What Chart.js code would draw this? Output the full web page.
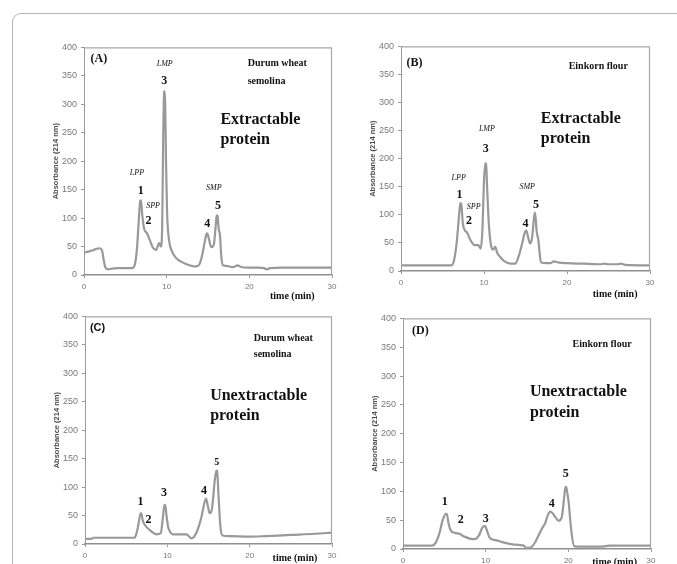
<!DOCTYPE html>
<html>
<head>
<meta charset="utf-8">
<script src="https://cdn.jsdelivr.net/npm/chart.js@4/dist/chart.umd.min.js"></script>
<style>
  html, body { margin: 0; padding: 0; background: #fff; }
  body { width: 677px; height: 564px; position: relative; overflow: hidden; }
  .frame { position: absolute; left: 12px; top: 13px; width: 700px; height: 600px;
           border-top: 1px solid #b4b4b4; border-left: 1px solid #b4b4b4; border-top-left-radius: 9px; }
  canvas { position: absolute; }
</style>
</head>
<body>
<div class="frame"></div>
<canvas id="chartA" width="312" height="277" style="left:34px;top:38px"></canvas>
<canvas id="chartB" width="313" height="274" style="left:351px;top:37px"></canvas>
<canvas id="chartC" width="311" height="277" style="left:35px;top:307px"></canvas>
<canvas id="chartD" width="312" height="280" style="left:353px;top:309px"></canvas>
<script>
// ── values (time in min, absorbance at 214 nm) ──
const timeTicks = [0, 10, 20, 30];
const absTicks  = [0, 50, 100, 150, 200, 250, 300, 350, 400];

// (A) durum wheat semolina, extractable
const timeA = [0, 0.5, 1, 1.5, 1.9, 2.2, 2.4, 2.6, 2.9, 3.3, 4, 5, 5.8, 6.1, 6.4, 6.6, 6.8, 6.9, 7.05, 7.3, 7.6,
               8, 8.3, 8.7, 9.1, 9.3, 9.45, 9.58, 9.66, 9.74, 9.82, 9.92, 10.05, 10.3, 10.6, 11.2, 11.8, 12.4, 13,
               13.6, 14, 14.3, 14.6, 14.85, 14.95, 15.1, 15.4, 15.7, 15.95, 16.05, 16.15, 16.3, 16.45, 16.6, 16.8,
               17.2, 18, 18.6, 19, 20, 21, 21.8, 22.1, 22.5, 24, 26, 28, 30];
const absA  = [39, 41, 43, 46, 47, 42, 25, 13, 10, 11, 12, 12, 12, 16, 45, 90, 130, 131, 105, 80, 74,
               60, 49, 44, 56, 50, 80, 240, 310, 323, 300, 200, 110, 60, 43, 29, 23, 19, 16,
               15, 20, 35, 58, 73, 72, 64, 49, 53, 90, 105, 104, 80, 70, 35, 17,
               16, 14, 17, 14, 13, 13, 12, 10, 12, 13, 13, 13, 13];

// (B) einkorn flour, extractable
const timeB = [0, 3, 6, 6.3, 6.7, 7, 7.15, 7.25, 7.45, 7.7, 7.95, 8.3, 8.9, 9.3, 9.6, 9.8, 10, 10.15, 10.25, 10.4,
               10.6, 10.9, 11.1, 11.35, 11.6, 12, 12.4, 13.2, 13.75, 14.15, 14.6, 14.9, 15.1, 15.35, 15.55, 15.8,
               16.05, 16.15, 16.35, 16.55, 16.75, 16.9, 17.5, 18, 18.4, 19, 20, 22, 24, 24.5, 25, 26, 26.5, 27, 30];
const absB  = [10, 10, 10, 14, 49, 100, 121, 120, 85, 72, 69, 57, 46, 46, 40, 70, 160, 192, 190, 140,
               80, 42, 38, 43, 32, 24, 18, 13, 13, 25, 49, 68, 72, 58, 49, 60,
               98, 104, 70, 55, 25, 15, 14, 14, 17, 15, 14, 13, 12, 13, 12, 12, 13, 11, 10];

// (C) durum wheat semolina, unextractable
const timeC = [0, 0.8, 1, 3, 6, 6.2, 6.5, 6.75, 6.85, 7, 7.3, 7.9, 8.7, 9.2, 9.45, 9.65, 9.75, 9.9, 10.1, 10.4,
               10.7, 11.5, 12.3, 12.6, 12.9, 13.2, 13.5, 13.8, 14.15, 14.5, 14.7, 14.95, 15.15, 15.4, 15.75,
               15.95, 16.05, 16.2, 16.45, 16.7, 17.5, 20, 22, 25, 28, 30];
const absC  = [9, 9, 11, 11, 11, 16, 35, 54, 54, 42, 33, 24, 17, 19, 45, 69, 69, 50, 30, 20,
               17, 17, 17, 14, 10, 12, 19, 30, 48, 72, 80, 65, 54, 60, 110,
               129, 128, 90, 30, 15, 14, 13, 14, 16, 18, 20];

// (D) einkorn flour, unextractable
const timeD = [0, 3.5, 4, 4.4, 4.8, 5.2, 5.3, 5.5, 5.75, 6.25, 6.9, 7.2, 7.5, 8.1, 8.7, 9.2, 9.6, 9.9, 10.2, 10.5,
               11.3, 12, 12.9, 14, 14.6, 14.9, 15.5, 16, 16.35, 16.8, 17.2, 17.5, 17.8, 18.1, 18.4, 18.8,
               19.2, 19.5, 19.65, 19.75, 19.9, 20.05, 20.2, 20.4, 20.7, 21.5, 24, 25, 30];
const absD  = [6, 6, 12, 27, 50, 61, 61, 45, 33, 28, 26, 23, 21, 18, 17, 24, 37, 40, 30, 19,
               15, 12, 9, 7, 6, 2, 3, 12, 22, 35, 45, 58, 65, 62, 56, 49,
               55, 90, 108, 107, 95, 80, 55, 27, 5, 4, 4, 6, 6];

// labels written on each panel, anchored in data units
const notesA = [
    { text: '(A)', t: 0.8, v: 379, kind: 'panel', align: 'left' },
    { text: 'Durum wheat', t: 19.8, v: 372, kind: 'sample', align: 'left' },
    { text: 'semolina', t: 19.8, v: 341, kind: 'sample', align: 'left' },
    { text: 'Extractable', t: 16.5, v: 273, kind: 'big', align: 'left' },
    { text: 'protein', t: 16.5, v: 238, kind: 'big', align: 'left' },
    { text: 'LMP', t: 9.76, v: 371, kind: 'tag' },
    { text: '3', t: 9.7, v: 341, kind: 'num' },
    { text: 'LPP', t: 6.4, v: 180, kind: 'tag' },
    { text: '1', t: 6.85, v: 148, kind: 'num' },
    { text: 'SPP', t: 8.35, v: 122, kind: 'tag' },
    { text: '2', t: 7.8, v: 95, kind: 'num' },
    { text: 'SMP', t: 15.7, v: 153, kind: 'tag' },
    { text: '5', t: 16.2, v: 122, kind: 'num' },
    { text: '4', t: 14.9, v: 90, kind: 'num' },
];
const notesB = [
    { text: '(B)', t: 0.65, v: 370, kind: 'panel', align: 'left' },
    { text: 'Einkorn flour', t: 20.2, v: 364, kind: 'sample', align: 'left' },
    { text: 'Extractable', t: 16.85, v: 271, kind: 'big', align: 'left' },
    { text: 'protein', t: 16.85, v: 235, kind: 'big', align: 'left' },
    { text: 'LMP', t: 10.35, v: 253, kind: 'tag' },
    { text: '3', t: 10.2, v: 217, kind: 'num' },
    { text: 'LPP', t: 6.95, v: 165, kind: 'tag' },
    { text: '1', t: 7.05, v: 136, kind: 'num' },
    { text: 'SPP', t: 8.75, v: 115, kind: 'tag' },
    { text: '2', t: 8.2, v: 90, kind: 'num' },
    { text: 'SMP', t: 15.2, v: 149, kind: 'tag' },
    { text: '5', t: 16.25, v: 117, kind: 'num' },
    { text: '4', t: 15.0, v: 84, kind: 'num' },
];
const notesC = [
    { text: '(C)', t: 0.6, v: 380, kind: 'panelSans', align: 'left' },
    { text: 'Durum wheat', t: 20.5, v: 362, kind: 'sample', align: 'left' },
    { text: 'semolina', t: 20.5, v: 333, kind: 'sample', align: 'left' },
    { text: 'Unextractable', t: 15.2, v: 261, kind: 'big', align: 'left' },
    { text: 'protein', t: 15.2, v: 225, kind: 'big', align: 'left' },
    { text: '1', t: 6.75, v: 74, kind: 'num' },
    { text: '2', t: 7.7, v: 43, kind: 'num' },
    { text: '3', t: 9.6, v: 90, kind: 'num' },
    { text: '4', t: 14.45, v: 93, kind: 'num' },
    { text: '5', t: 16.0, v: 144, kind: 'numSmall' },
];
const notesD = [
    { text: '(D)', t: 1.1, v: 379, kind: 'panel', align: 'left' },
    { text: 'Einkorn flour', t: 20.5, v: 355, kind: 'sample', align: 'left' },
    { text: 'Unextractable', t: 15.35, v: 273, kind: 'big', align: 'left' },
    { text: 'protein', t: 15.35, v: 237, kind: 'big', align: 'left' },
    { text: '1', t: 5.05, v: 82, kind: 'num' },
    { text: '2', t: 7.0, v: 50, kind: 'num' },
    { text: '3', t: 10.0, v: 53, kind: 'num' },
    { text: '4', t: 18.0, v: 79, kind: 'num' },
    { text: '5', t: 19.7, v: 131, kind: 'num' },
];

const SERIF = '"Liberation Serif", "Times New Roman", serif';
const SANS  = '"Liberation Sans", Arial, sans-serif';
const FONTS = {
    panel:     `bold 12px ${SERIF}`,
    panelSans: `bold 11px ${SANS}`,
    sample:    `bold 10px ${SERIF}`,
    big:       `bold 16px ${SERIF}`,
    num:       `bold 12px ${SERIF}`,
    numSmall:  `bold 10px ${SERIF}`,
    tag:       `italic 8px ${SERIF}`,
};

// frame, axis titles and panel labels
const panelDecor = {
    id: 'panelDecor',
    afterDraw(chart, args, opts) {
        const { ctx, chartArea: a, scales: { x, y } } = chart;
        ctx.save();
        ctx.strokeStyle = '#a8a8a8';
        ctx.lineWidth = 1.2;
        ctx.beginPath();
        ctx.moveTo(a.left, a.top + 0.5);
        ctx.lineTo(a.right - 0.5, a.top + 0.5);
        ctx.lineTo(a.right - 0.5, a.bottom);
        ctx.stroke();

        ctx.save();
        ctx.translate(a.left - 28, (a.top + a.bottom) / 2);
        ctx.rotate(-Math.PI / 2);
        ctx.fillStyle = '#4a4a4a';
        ctx.font = `bold 7.5px ${SANS}`;
        ctx.textAlign = 'center';
        ctx.textBaseline = 'middle';
        ctx.fillText('Absorbance (214 nm)', 0, 0);
        ctx.restore();

        ctx.fillStyle = '#111';
        ctx.textBaseline = 'middle';
        ctx.font = `bold 10px ${SERIF}`;
        ctx.textAlign = 'center';
        ctx.fillText('time (min)', x.getPixelForValue(opts.titleAt), a.bottom + opts.titleGap);

        opts.notes.forEach(n => {
            ctx.font = FONTS[n.kind];
            ctx.textAlign = n.align || 'center';
            ctx.fillText(n.text, x.getPixelForValue(n.t), y.getPixelForValue(n.v));
        });
        ctx.restore();
    },
};

function buildPanel(canvasId, times, values, notes, titleAt, titleGap) {
    const ctx = document.getElementById(canvasId);
    return new Chart(ctx, {
        type: 'line',
        data: {
            datasets: [{
                data: times.map((t, i) => ({ x: t, y: values[i] })),
                borderColor: '#999999',
                borderWidth: 2.2,
                pointRadius: 0,
                fill: false,
                cubicInterpolationMode: 'monotone',
            }],
        },
        options: {
            responsive: false, animation: false,
            layout: { padding: { left: 0, top: 8, right: 14, bottom: 0 } },
            plugins: {
                legend: { display: false },
                tooltip: { enabled: false },
                panelDecor: { notes, titleAt, titleGap },
            },
            scales: {
                x: {
                    type: 'linear', min: 0, max: 30,
                    afterFit: s => { s.height = 40; },
                    afterBuildTicks: s => { s.ticks = timeTicks.map(v => ({ value: v })); },
                    grid: { display: true, drawOnChartArea: false, tickLength: 3, color: '#999' },
                    border: { color: '#8f8f8f', width: 1.5 },
                    ticks: { font: { family: SANS, size: 8 }, color: '#777', padding: 4, maxRotation: 0 },
                },
                y: {
                    min: 0, max: 400,
                    afterFit: s => { s.width = 50; },
                    afterBuildTicks: s => { s.ticks = absTicks.map(v => ({ value: v })); },
                    grid: { display: true, drawOnChartArea: false, tickLength: 3, color: '#999' },
                    border: { color: '#9a9a9a', width: 1 },
                    ticks: { font: { family: SANS, size: 9 }, color: '#7a7a7a', padding: 4 },
                },
            },
        },
        plugins: [panelDecor],
    });
}

buildPanel('chartA', timeA, absA, notesA, 25.2, 21);
buildPanel('chartB', timeB, absB, notesB, 25.8, 23);
buildPanel('chartC', timeC, absC, notesC, 25.5, 14);
buildPanel('chartD', timeD, absD, notesD, 25.6, 13);
</script>
</body>
</html>
